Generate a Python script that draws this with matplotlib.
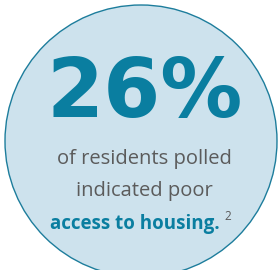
import matplotlib.pyplot as plt
from matplotlib.patches import Circle

# values
stat_value = "26%"
body_lines = ["of residents polled", "indicated poor"]
highlight = "access to housing."
footnote = "2"

fill_color = "#cde2ed"
edge_color = "#1d7d9c"
teal = "#0a7ea0"
gray = "#5b5b5b"

fig = plt.figure(figsize=(2.78, 2.70), dpi=100)
ax = fig.add_axes([0, 0, 1, 1])
ax.set_xlim(0, 278)
ax.set_ylim(270, 0)
ax.axis("off")

ax.add_patch(Circle((141, 141), 136, facecolor=fill_color, edgecolor=edge_color, linewidth=1.0))

ax.text(145, 117, stat_value, ha="center", va="baseline", fontsize=59,
        fontweight="bold", color=teal, family="DejaVu Sans")

ax.text(144, 164, body_lines[0], ha="center", va="baseline", fontsize=14.5,
        color=gray, family="Open Sans")
ax.text(144, 196, body_lines[1], ha="center", va="baseline", fontsize=14.5,
        color=gray, family="Open Sans")

ax.text(135, 229, highlight, ha="center", va="baseline", fontsize=13.5,
        fontweight="bold", color=teal, family="Open Sans")
ax.text(224, 220, footnote, ha="left", va="baseline", fontsize=8.5,
        color=gray, family="Open Sans")

fig.savefig("out.png", dpi=100)
